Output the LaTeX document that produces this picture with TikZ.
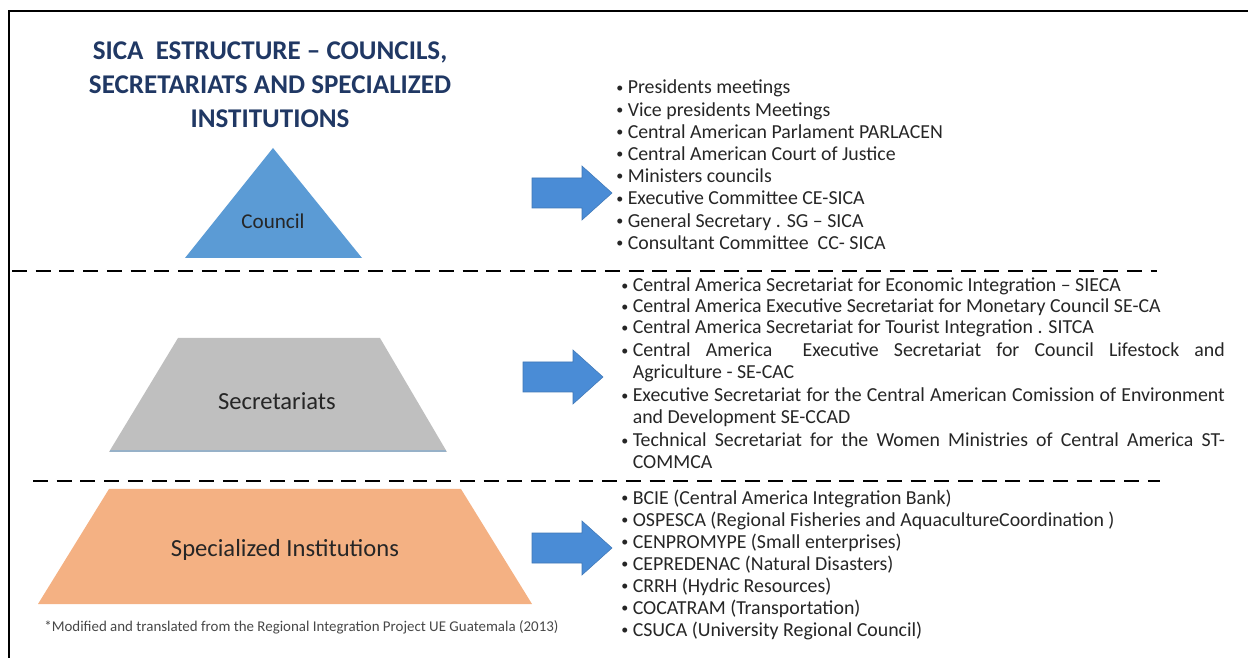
\documentclass[tikz,border=0pt]{standalone}
\usepackage{fontspec}
\setmainfont{Carlito}
\usetikzlibrary{calc}
\definecolor{titleblue}{HTML}{203864}
\definecolor{cnlblue}{HTML}{5B9BD5}
\definecolor{arrblue}{HTML}{4A8CD6}
\definecolor{secgray}{HTML}{BFBFBF}
\definecolor{instorange}{HTML}{F4B183}
\definecolor{txt}{HTML}{262626}
\tikzset{
  divider/.style={line width=1.7pt, dash pattern=on 8.5pt off 5pt},
  lvltext/.style={inner sep=0pt, text=txt, font=\fontsize{14}{16}\selectfont},
  item/.style={anchor=base west, inner sep=0pt, text=txt, font=\fontsize{11.3}{13}\selectfont},
  blockarrow/.style={fill=arrblue, draw=arrblue!85!black, line width=0.3pt},
}
\newcommand{\bul}{\makebox[6.5pt][l]{\raisebox{0.2ex}{\footnotesize\textbullet}}}
\newcommand{\ind}{\hspace*{6.5pt}}
\newcommand{\jline}[1]{\makebox[337pt][s]{#1}}

\begin{document}
\begin{tikzpicture}[x=0.02cm, y=-0.02cm]
  \useasboundingbox (0,0) rectangle (1248,658);
  % frame
  \draw[line width=1.2pt] (9,658) -- (9,11) -- (1248,11);

  \node[align=center, inner sep=0pt, text=titleblue, font=\fontsize{15.4}{19.3}\selectfont\bfseries]
    (title) at (270,85) {SICA\ \ ESTRUCTURE -- COUNCILS,\\SECRETARIATS AND SPECIALIZED\\INSTITUTIONS};

  % the three levels
  \fill[cnlblue] (273,148) -- (362,258) -- (185,258) -- cycle;
  \node[lvltext, font=\fontsize{12}{14}\selectfont] (council) at (273,221) {Council};

  \fill[secgray] (178,338) -- (380,338) -- (447,452) -- (109,452) -- cycle;
  \draw[cnlblue!40!secgray, line width=1pt] (110,451) -- (446,451);
  \node[lvltext] (secr) at (277,401) {Secretariats};

  \fill[instorange] (109,489) -- (461,489) -- (532,604) -- (38,604) -- cycle;
  \node[lvltext] (inst) at (285,550) {Specialized Institutions};

  \draw[divider] (12,271) -- (1157,271);
  \draw[divider] (33,481) -- (1160,481);

  % arrows
  \foreach \ax/\ay in {532/193, 523/377, 532/548}
    \draw[blockarrow, shift={(\ax,\ay)}] (0,-15) -- (50,-15) -- (50,-27) -- (80,0)
      -- (50,27) -- (50,15) -- (0,15) -- cycle;

  % lists
  \foreach \t [count=\k from 0] in {Presidents meetings, Vice presidents Meetings,
      Central American Parlament PARLACEN, Central American Court of Justice,
      Ministers councils, Executive Committee CE-SICA,
      General Secretary . SG -- SICA, Consultant Committee\ \ CC- SICA}
    \node[item] (c\k) at (616,94+22.2*\k) {\bul\t};

  \foreach \y/\t [count=\k from 0] in {292/\bul Central America Secretariat for Economic Integration -- SIECA,
      313/\bul Central America Executive Secretariat for Monetary Council SE-CA,
      334/\bul Central America Secretariat for Tourist Integration . SITCA,
      357/\bul\jline{Central America\ \ Executive Secretariat for Council Lifestock and},
      379/\ind Agriculture - SE-CAC,
      402/\bul\jline{Executive Secretariat for the Central American Comission of Environment},
      424/\ind and Development SE-CCAD,
      447/\bul\jline{Technical Secretariat for the Women Ministries of Central America ST-},
      469/\ind COMMCA}
    \node[item] (s\k) at (621,\y) {\t};

  \foreach \t [count=\k from 0] in {BCIE (Central America Integration Bank),
      OSPESCA (Regional Fisheries and AquacultureCoordination ),
      CENPROMYPE (Small enterprises), CEPREDENAC (Natural Disasters),
      CRRH (Hydric Resources), COCATRAM (Transportation),
      CSUCA (University Regional Council)}
    \node[item] (i\k) at (621,504+22*\k) {\bul\t};

  \node[anchor=base west, inner sep=0pt, text=txt!85, font=\fontsize{8.5}{10}\selectfont]
    (note) at (44,631) {*Modified and translated from the Regional Integration Project UE Guatemala (2013)};
\end{tikzpicture}
\end{document}
